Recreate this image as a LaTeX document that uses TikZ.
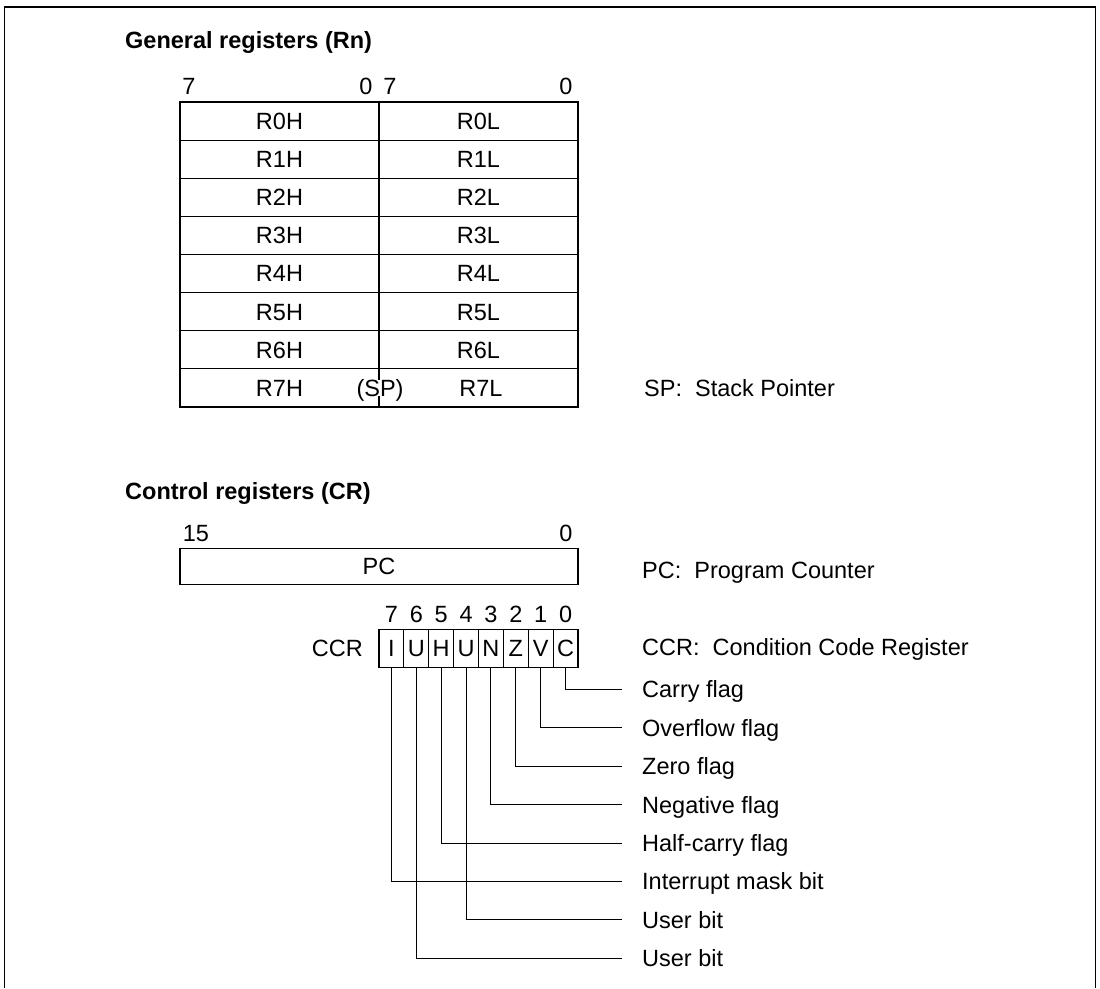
\documentclass[tikz,border=0pt]{standalone}
\usepackage{fontspec}
\setmainfont{Liberation Sans}
\usetikzlibrary{calc}

\tikzset{
  txt/.style={inner sep=0pt, text height=16.8pt, text depth=0pt, font=\fontsize{23.5}{26}\selectfont},
  heading/.style={txt, anchor=west, font=\fontsize{23.5}{26}\selectfont\bfseries},
  regline/.style={line width=1.1pt},
  leader/.style={line width=0.9pt},
  ccrbit/.style={txt, draw, line width=1.1pt, minimum width=24.875pt, minimum height=38pt},
}

\begin{document}
\begin{tikzpicture}[x=1pt,y=-1pt]
\useasboundingbox (0,0) rectangle (1100,988);

% frame
\draw[line width=1.6pt] (4.5,988) -- (4.5,7) -- (1095.5,7) -- (1095.5,988);

% general registers
\node[heading] (genhead) at (125,40) {General registers (Rn)};
\foreach \x/\b [count=\i] in {189/7, 366/0, 390/7, 566/0}
  \node[txt] (gbit\i) at (\x,86) {\b};

\draw[regline] (180,102) rectangle (578,407);
\foreach \r in {1,...,7}
  \draw[regline] (180,102+38.125*\r) -- (578,102+38.125*\r);
\draw[regline] (379,102) -- (379,407);

\foreach \r in {0,...,6}{
  \node[txt] (rh\r) at (279.5,121+38.125*\r) {R\r H};
  \node[txt] (rl\r) at (478.5,121+38.125*\r) {R\r L};
}
\node[txt] (rh7) at (279.5,388) {R7H};
\node[txt, fill=white] (sp) at (380,388) {(SP)};
\node[txt] (rl7) at (481,388) {R7L};
\node[txt, anchor=west] (spnote) at (644,388) {SP:\ \ Stack Pointer};

% control registers
\node[heading] (ctrlhead) at (125,491) {Control registers (CR)};
\node[txt] (pcbit15) at (196,533) {15};
\node[txt] (pcbit0) at (566,533) {0};
\node[txt, draw, regline, minimum width=398pt, minimum height=36.5pt] (pc) at (379,566.5) {PC};
\node[txt, anchor=west] (pcnote) at (642,570) {PC:\ \ Program Counter};

\node[txt, anchor=east] (ccr) at (363,648) {CCR};
\foreach \l/\b [count=\i from 0] in {I/7, U/6, H/5, U/4, N/3, Z/2, V/1, C/0}{
  \node[ccrbit] (bit\b) at (391.44+24.875*\i,648.3) {\l};
  \node[txt] (num\b) at (391.44+24.875*\i,614.5) {\b};
}
\node[txt, anchor=west] (ccrnote) at (642,647) {CCR:\ \ Condition Code Register};

% flag leaders
\foreach \b/\y/\t in {0/689.5/Carry flag, 1/727.9/Overflow flag, 2/766.3/Zero flag,
    3/804.7/Negative flag, 5/843.1/Half-carry flag, 7/881.5/Interrupt mask bit,
    4/919.9/User bit, 6/958.3/User bit}{
  \node[txt, anchor=west] (flag\b) at (642,\y) {\t};
  \draw[leader] (bit\b.south) |- ($(flag\b.west)+(-20,0)$);
}

\end{tikzpicture}
\end{document}
